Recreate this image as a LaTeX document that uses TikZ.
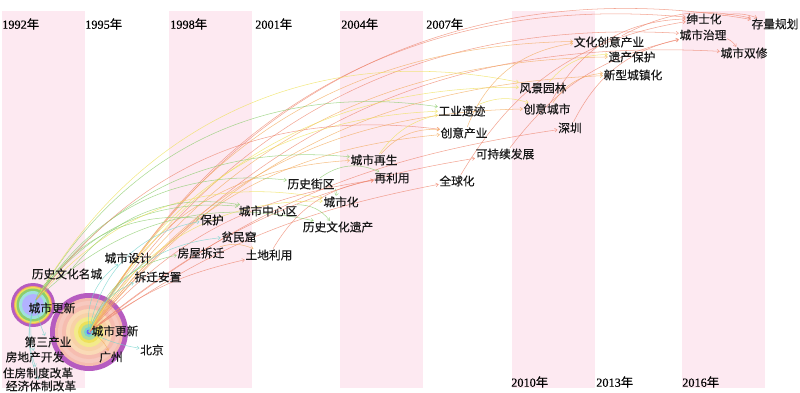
\documentclass[tikz,border=0pt]{standalone}
\usepackage{fontspec}
\setmainfont{Liberation Serif}[FakeBold=0.3]
\newfontfamily\cjk{Noto Sans CJK SC}[FakeBold=0.4]
\usetikzlibrary{arrows.meta}

\definecolor{bandpink}{RGB}{253,233,241}
\definecolor{lkgreen}{RGB}{140,205,110}
\definecolor{lkyellow}{RGB}{238,225,90}
\definecolor{lkorange}{RGB}{243,172,95}
\definecolor{lkred}{RGB}{238,135,112}
\definecolor{lkcyan}{RGB}{120,212,205}
\definecolor{ringpurple}{RGB}{182,92,192}

\pgfdeclarelayer{background}
\pgfdeclarelayer{edges}
\pgfsetlayers{background,edges,main}

\tikzset{
  kw/.style={font=\cjk\fontsize{10}{12}\selectfont, inner sep=0.5pt, text=black!90},
  yr/.style={anchor=west, inner sep=0pt, font=\fontsize{10.5}{12}\selectfont},
  lk/.style={line width=0.45pt, opacity=0.75, -{To[length=2.5pt,width=3.5pt]}},
  eg/.style={lk, draw=lkgreen},
  ey/.style={lk, draw=lkyellow},
  eo/.style={lk, draw=lkorange},
  er/.style={lk, draw=lkred},
  ec/.style={lk, draw=lkcyan}
}

\begin{document}
\begin{tikzpicture}[x=0.03cm,y=-0.03cm]
\useasboundingbox (0,0) rectangle (800,393);

\begin{pgfonlayer}{background}
\foreach \xa in {2,169,340,512,682}
  \fill[bandpink] (\xa,11) rectangle ++(83,377);
\foreach \r/\c in {39/ringpurple,34/lkred!55,31/lkred!45,27/lkred!55,23/lkorange!45,19/lkorange!55,15/lkyellow!70,11/lkyellow,8/lkgreen!70,5/lkcyan,2.5/blue!60}
  \fill[\c] (89,332) circle (\r);
\foreach \r/\c in {22/ringpurple,19/lkorange,18/lkyellow,16.5/lkgreen,14/lkcyan!70,11/blue!30}
  \fill[\c] (33,305) circle (\r);
\end{pgfonlayer}

\node[yr] (y92) at (2,24) {1992{\cjk 年}};
\node[yr] (y95) at (85,24) {1995{\cjk 年}};
\node[yr] (y98) at (170,24) {1998{\cjk 年}};
\node[yr] (y01) at (255,24) {2001{\cjk 年}};
\node[yr] (y04) at (341,24) {2004{\cjk 年}};
\node[yr] (y07) at (426,24) {2007{\cjk 年}};
\node[yr] (y10) at (511,382) {2010{\cjk 年}};
\node[yr] (y13) at (596,382) {2013{\cjk 年}};
\node[yr] (y16) at (682,382) {2016{\cjk 年}};

\coordinate (g) at (89,332);
\coordinate (s) at (36,300);

\node[kw] (jsh) at (704,19) {绅士化};
\node[kw] (clgh) at (775,24) {存量规划};
\node[kw] (cszl) at (703,35) {城市治理};
\node[kw] (cssx) at (744,53) {城市双修};
\node[kw] (whcy) at (609,42) {文化创意产业};
\node[kw] (ycbh) at (632,57) {遗产保护};
\node[kw] (xxcz) at (633,75) {新型城镇化};
\node[kw] (fjyl) at (543,88) {风景园林};
\node[kw] (cycs) at (547,109) {创意城市};
\node[kw] (sz) at (570,128) {深圳};
\node[kw] (gyyj) at (462,111) {工业遗迹};
\node[kw] (cycy) at (464,133) {创意产业};
\node[kw] (kcx) at (505,154) {可持续发展};
\node[kw] (qqh) at (457,181) {全球化};
\node[kw] (cszs) at (374,160) {城市再生};
\node[kw] (zly) at (392,178) {再利用};
\node[kw] (lsjq) at (311,184) {历史街区};
\node[kw] (csh) at (341,202) {城市化};
\node[kw] (zxq) at (268,211) {城市中心区};
\node[kw] (lsyc) at (338,227) {历史文化遗产};
\node[kw] (bh) at (212,220) {保护};
\node[kw] (pmk) at (239,237) {贫民窟};
\node[kw] (fwcq) at (201,253) {房屋拆迁};
\node[kw] (tdly) at (269,255) {土地利用};
\node[kw] (cssj) at (128,258) {城市设计};
\node[kw] (mc) at (67,274) {历史文化名城};
\node[kw] (cqaz) at (158,277) {拆迁安置};
\node[kw] (sgx) at (52,308) {城市更新};
\node[kw] (ggx) at (115,331) {城市更新};
\node[kw] (dscy) at (48,342) {第三产业};
\node[kw] (fdc) at (35,357) {房地产开发};
\node[kw] (zfzd) at (38,373) {住房制度改革};
\node[kw] (jjtz) at (41,386) {经济体制改革};
\node[kw] (gz) at (111,357) {广州};
\node[kw] (bj) at (152,350) {北京};

\begin{pgfonlayer}{edges}
\draw[er] (g) to[bend left=35] (clgh);
\draw[er] (g) to[bend left=33] (jsh);
\draw[er] (g) to[bend left=30] (cszl);
\draw[er] (g) to[bend left=27] (cssx);
\draw[eo] (g) to[bend left=30] (whcy);
\draw[eo] (g) to[bend left=27] (ycbh);
\draw[eo] (g) to[bend left=24] (xxcz);
\draw[ey] (g) to[bend left=30] (fjyl);
\draw[eo] (g) to[bend left=26] (cycs);
\draw[er] (g) to[bend left=15] (sz);
\draw[ey] (g) to[bend left=30] (gyyj);
\draw[eo] (g) to[bend left=24] (cycy);
\draw[er] (g) to[bend left=15] (kcx);
\draw[er] (g) to[bend left=12] (qqh);
\draw[eo] (g) to[bend left=30] (cszs);
\draw[er] (g) to[bend left=20] (zly);
\draw[ey] (g) to[bend left=30] (csh);
\draw[er] (g) to[bend left=12] (tdly);
\draw[ec] (g) to[bend left=35] (bh);
\draw[ec] (g) to[bend left=30] (pmk);
\draw[eg] (g) to[bend left=30] (fwcq);
\draw[ec] (g) to[bend left=25] (cqaz);
\draw[ec] (g) to[bend left=30] (cssj);
\draw[ec] (g) to[bend right=8] (bj);
\draw[eo] (g) to[bend left=20] (gz);
\draw[eg] (s) to[bend left=30] (cszs);
\draw[eg] (s) to[bend left=32] (lsjq);
\draw[eg] (s) to[bend left=28] (lsyc);
\draw[eg] (s) to[bend left=30] (zxq);
\draw[eg] (s) to[bend left=34] (gyyj);
\draw[ey] (s) to[bend left=30] (csh);
\draw[eg] (s) to[bend left=32] (bh);
\draw[ey] (s) to[bend left=36] (fjyl);
\draw[er] (s) to[bend left=30] (cycy);
\draw[eg] (s) to[bend left=20] (mc);
\draw[ec] (s) to[bend right=10] (dscy);
\draw[ec] (s) to[bend right=15] (fdc);
\draw[ec] (s) to[bend right=20] (zfzd);
\draw[ec] (s) to[bend right=20] (jjtz);
\draw[eg] (mc) to[bend left=30] (zxq);
\draw[eg] (zxq) to[bend left=25] (lsyc);
\draw[eg] (lsjq) to[bend left=20] (csh);
\draw[eg] (lsjq) to[bend left=30] (zly);
\draw[ey] (cszs) to[bend left=20] (gyyj);
\draw[eo] (cszs) to[bend left=25] (cycy);
\draw[ey] (gyyj) to[bend left=20] (cycs);
\draw[eo] (cycy) to[bend left=30] (whcy);
\draw[ey] (fjyl) to[bend left=25] (ycbh);
\draw[eo] (cycs) to[bend left=25] (xxcz);
\draw[er] (cszl) to[bend left=15] (cssx);
\draw[er] (jsh) to[bend left=15] (clgh);
\draw[er] (qqh) to[bend left=25] (jsh);
\draw[er] (kcx) to[bend left=20] (cszl);
\draw[er] (cycs) to[bend left=30] (jsh);
\draw[er] (sz) to[bend left=25] (cszl);
\draw[er] (whcy) to[bend left=20] (clgh);
\draw[eo] (fwcq) to[bend left=20] (tdly);
\draw[er] (tdly) to[bend left=25] (zly);
\end{pgfonlayer}
\end{tikzpicture}
\end{document}
